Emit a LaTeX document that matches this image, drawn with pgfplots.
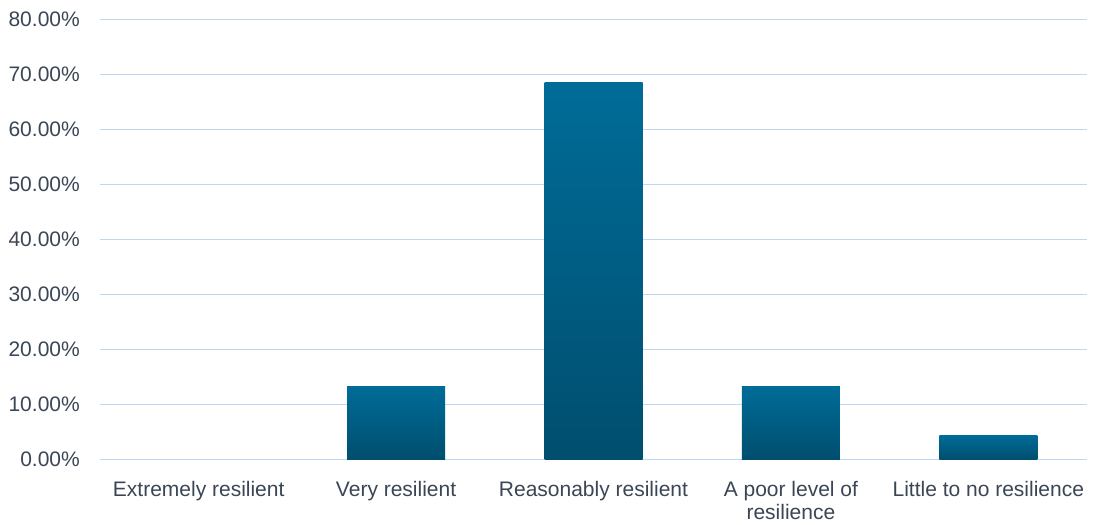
\documentclass[border=0pt]{standalone}
\usepackage{pgfplots}
\pgfplotsset{compat=1.18}
\usepackage{fontspec}
\setmainfont{Liberation Sans}
\definecolor{labelgrey}{HTML}{3A4655}
\definecolor{gridblue}{HTML}{C0D8EF}
\definecolor{bartop}{HTML}{006C98}
\definecolor{barbottom}{HTML}{004E6E}
\begin{document}
\begin{tikzpicture}
\begin{axis}[
  at={(0,0)}, anchor=south west,
  scale only axis,
  width=987pt, height=440pt,
  xmin=-0.5, xmax=4.5,
  ymin=0, ymax=80,
  xtick={0,1,2,3,4},
  xticklabels={Extremely resilient,Very resilient,Reasonably resilient,{A poor level of\\resilience},Little to no resilience},
  ytick={0,10,20,30,40,50,60,70,80},
  yticklabels={0.00\%,10.00\%,20.00\%,30.00\%,40.00\%,50.00\%,60.00\%,70.00\%,80.00\%},
  ymajorgrids,
  grid style={draw=gridblue, line width=1.5pt},
  axis line style={draw=none},
  major tick length=0pt,
  tick style={draw=none},
  every tick label/.append style={font=\fontsize{21}{23}\selectfont, text=labelgrey, inner sep=0pt},
  yticklabel style={xshift=-20pt},
  xticklabel style={align=center, yshift=-22pt},
  clip=false,
  % one plot per bar so that each bar carries its own vertical gradient
  every axis plot/.append style={ybar, bar width=98pt, bar shift=0pt, draw=none, mark=none,
    top color=bartop, bottom color=barbottom},
]
\addplot[opacity=0] coordinates {(0,0)};
\addplot[] coordinates {(1,13.3)};
\addplot[] coordinates {(2,68.6)};
\addplot[] coordinates {(3,13.3)};
\addplot[] coordinates {(4,4.4)};
\end{axis}
\pgfresetboundingbox
\path (-100pt,-65.7pt) rectangle (1001pt,459.3pt);
\end{tikzpicture}
\end{document}
